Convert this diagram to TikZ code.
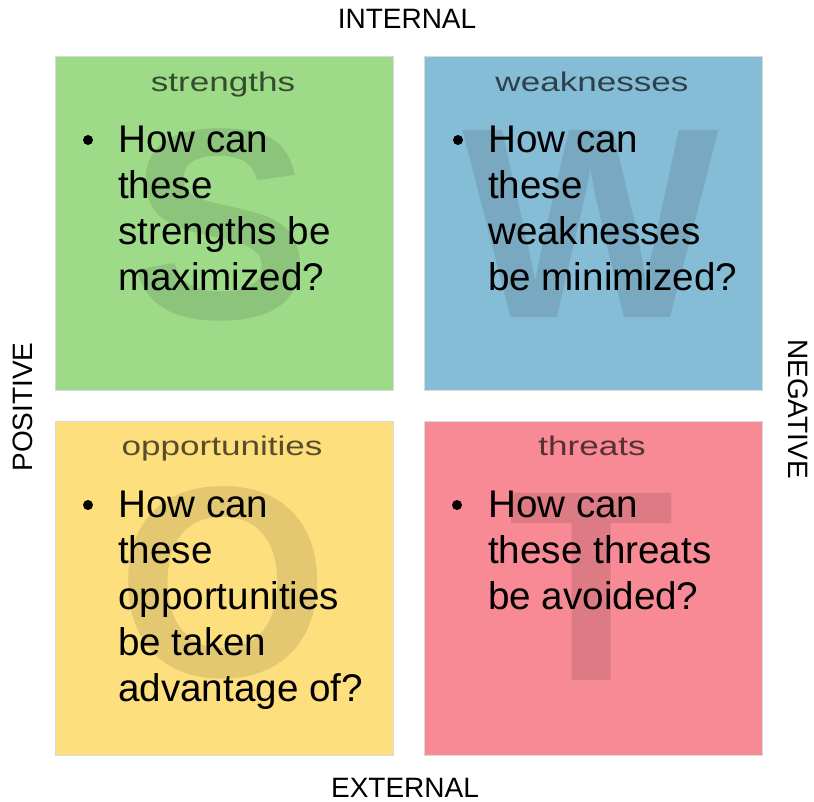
\documentclass[tikz,border=0pt]{standalone}
\usepackage{fontspec}
\setmainfont{Liberation Sans}
\newfontfamily\titlefont[FakeStretch=1.3]{Liberation Sans}
\definecolor{cgreen}{HTML}{9DDB89}
\definecolor{cblue}{HTML}{86BDD6}
\definecolor{cyellow}{HTML}{FDDF7E}
\definecolor{cred}{HTML}{F78A94}
\tikzset{
  quad/.style={draw=black!15, line width=1pt, minimum width=338pt, minimum height=334pt, inner sep=0pt},
  bigletter/.style={anchor=base, inner sep=0pt, font=\fontsize{272}{272}\selectfont\bfseries, text=black, text opacity=0.1},
  qtitle/.style={anchor=base, inner sep=0pt, font=\titlefont\fontsize{27}{27}\selectfont, text=black, text opacity=0.65},
  bodyline/.style={anchor=base west, inner sep=0pt, font=\fontsize{38.6}{38.6}\selectfont},
  dotmark/.style={circle, fill=black, minimum size=10pt, inner sep=0pt},
  axislabel/.style={anchor=base, inner sep=0pt, font=\fontsize{28}{28}\selectfont},
}
\begin{document}
\begin{tikzpicture}[x=1pt,y=-1pt]
\useasboundingbox (0,0) rectangle (814,801);
% quadrants
\node[quad, fill=cgreen]  (qs) at (224,223.5) {};
\node[quad, fill=cblue]   (qw) at (593,223.5) {};
\node[quad, fill=cyellow] (qo) at (224,588) {};
\node[quad, fill=cred]    (qt) at (593,588) {};
% big letters
\node[bigletter] (bs) at (220,318) {S};
\node[bigletter] (bw) at (591,317) {W};
\node[bigletter] (bo) at (223,676) {O};
\node[bigletter] (bt) at (592,680) {T};
% titles
\node[qtitle] (ts) at (223,91) {strengths};
\node[qtitle] (tw) at (592,91) {weaknesses};
\node[qtitle] (to) at (222,455) {opportunities};
\node[qtitle] (tt) at (592,455) {threats};
% bullets
\node[dotmark] (ds) at (88,140) {};
\node[dotmark] (dw) at (458,140) {};
\node[dotmark] (do) at (88,505) {};
\node[dotmark] (dt) at (457,505) {};
% body text
\foreach \t [count=\i from 0] in {How can, these, strengths be, maximized?}
  \node[bodyline] (ls\i) at (118,152+46*\i) {\t};
\foreach \t [count=\i from 0] in {How can, these, weaknesses, be minimized?}
  \node[bodyline] (lw\i) at (488,152+46*\i) {\t};
\foreach \t [count=\i from 0] in {How can, these, opportunities, be taken, advantage of?}
  \node[bodyline] (lo\i) at (118,517+46*\i) {\t};
\foreach \t [count=\i from 0] in {How can, these threats, be avoided?}
  \node[bodyline] (lt\i) at (488,517+46*\i) {\t};
% axis labels
\node[axislabel] (internal) at (407,28) {INTERNAL};
\node[axislabel] (external) at (405,797) {EXTERNAL};
\node[axislabel, rotate=90] (positive) at (32,407) {POSITIVE};
\node[axislabel, rotate=-90] (negative) at (788,409) {NEGATIVE};
\end{tikzpicture}
\end{document}
